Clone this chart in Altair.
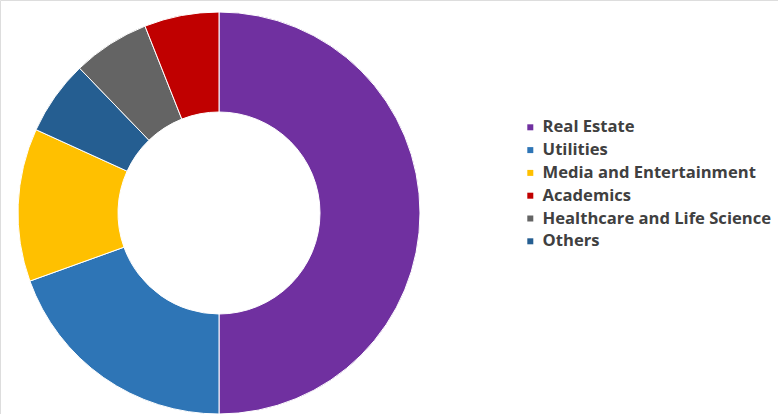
import altair as alt
import pandas as pd

categories = ["Real Estate", "Utilities", "Media and Entertainment", "Others",
              "Healthcare and Life Science", "Academics"]
values = [50.0, 19.5, 12.3, 6.0, 6.2, 6.0]
pie_order = [1, 2, 3, 4, 5, 6]

legend_order = ["Real Estate", "Utilities", "Media and Entertainment", "Academics",
                "Healthcare and Life Science", "Others"]
legend_colors = ["#7030A0", "#2E75B6", "#FFC000", "#C00000", "#646464", "#255E91"]

df = pd.DataFrame({"category": categories, "value": values, "order": pie_order})

chart = alt.Chart(df).mark_arc(
    outerRadius=201, innerRadius=101, stroke="#ffffff", strokeWidth=1
).encode(
    theta=alt.Theta("value:Q", stack=True),
    order=alt.Order("order:Q"),
    color=alt.Color(
        "category:N",
        scale=alt.Scale(domain=legend_order, range=legend_colors),
        legend=alt.Legend(
            title=None, orient="none", legendX=522, legendY=119,
            symbolType="square", symbolSize=36, symbolStrokeWidth=0,
            labelFont="Open Sans", labelFontSize=16.6, labelFontWeight="bold",
            labelColor="#404040", labelOffset=4, rowPadding=5.8, padding=0,
            labelLimit=400,
        ),
    ),
    x=alt.value(219),
    y=alt.value(213),
).properties(
    width=778, height=414, autosize=alt.AutoSizeParams(type="none"), padding=0
).configure_view(stroke=None).configure(background="#ffffff")

chart.save("out.html", embed_options={"renderer": "svg", "actions": False})
